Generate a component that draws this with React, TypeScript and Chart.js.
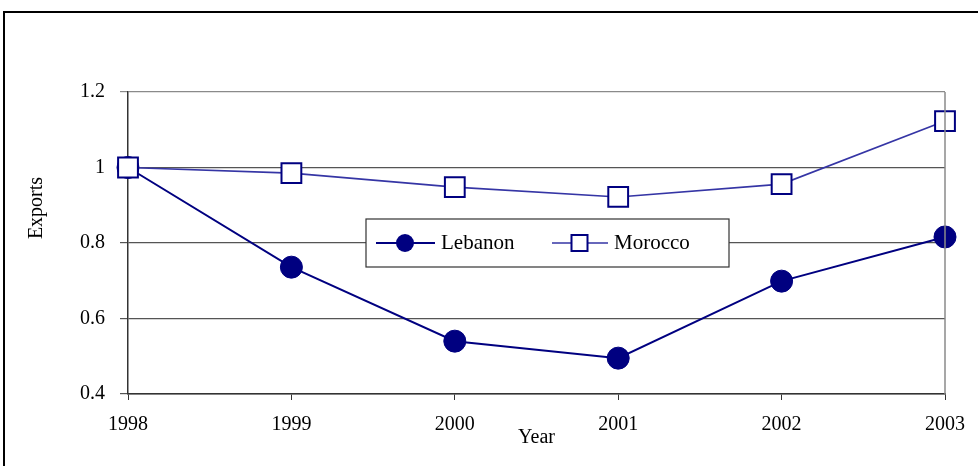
import React, { useEffect, useRef } from 'react';
import { Chart, registerables } from 'chart.js';

Chart.register(...registerables);

const years = ['1998', '1999', '2000', '2001', '2002', '2003'];
const lebanon = [1.0, 0.736, 0.54, 0.495, 0.699, 0.816];
const morocco = [1.0, 0.985, 0.948, 0.922, 0.956, 1.123];
const yTicks = [0.4, 0.6, 0.8, 1.0, 1.2];
const seriesNames = ['Lebanon', 'Morocco'];
const yTitle = 'Exports';
const xTitle = 'Year';

const FONT = '"Liberation Serif", "Times New Roman", serif';
const NAVY = '#000080';
const MOROCCO_LINE = '#3535a5';

const decor = {
  id: 'decor',
  beforeDraw(chart: any) {
    const ctx = chart.ctx;
    ctx.save();
    ctx.fillStyle = '#fff';
    ctx.fillRect(0, 0, chart.width, chart.height);
    ctx.restore();
  },
  afterDatasetsDraw(chart: any) {
    const ctx = chart.ctx;
    const ca = chart.chartArea;
    ctx.save();
    // right border of plot area
    ctx.strokeStyle = '#8a8a8a';
    ctx.lineWidth = 1.5;
    ctx.beginPath();
    ctx.moveTo(ca.right, ca.top);
    ctx.lineTo(ca.right, ca.bottom);
    ctx.stroke();

    // outer frame
    ctx.strokeStyle = '#000';
    ctx.lineWidth = 2;
    ctx.strokeRect(4, 12, chart.width + 100, chart.height + 100);

    // legend box
    const bx = ca.left + 238;
    const by = ca.top + 127;
    const bw = 363;
    const bh = 48;
    ctx.fillStyle = '#fff';
    ctx.fillRect(bx, by, bw, bh);
    ctx.strokeStyle = '#333';
    ctx.lineWidth = 1.2;
    ctx.strokeRect(bx, by, bw, bh);
    const cy = by + bh / 2;

    // Lebanon entry
    ctx.strokeStyle = NAVY;
    ctx.lineWidth = 2;
    ctx.beginPath();
    ctx.moveTo(bx + 10, cy);
    ctx.lineTo(bx + 69, cy);
    ctx.stroke();
    ctx.fillStyle = NAVY;
    ctx.beginPath();
    ctx.arc(bx + 39, cy, 9, 0, Math.PI * 2);
    ctx.fill();
    ctx.fillStyle = '#000';
    ctx.font = `21px ${FONT}`;
    ctx.textBaseline = 'middle';
    ctx.textAlign = 'left';
    ctx.fillText(seriesNames[0], bx + 75, cy);

    // Morocco entry
    ctx.strokeStyle = MOROCCO_LINE;
    ctx.lineWidth = 1.5;
    ctx.beginPath();
    ctx.moveTo(bx + 186, cy);
    ctx.lineTo(bx + 242, cy);
    ctx.stroke();
    ctx.fillStyle = '#fff';
    ctx.fillRect(bx + 205.5, cy - 8, 16, 16);
    ctx.strokeStyle = NAVY;
    ctx.lineWidth = 2;
    ctx.strokeRect(bx + 205.5, cy - 8, 16, 16);
    ctx.fillStyle = '#000';
    ctx.fillText(seriesNames[1], bx + 248, cy);

    // y axis title
    ctx.save();
    ctx.translate(37, 208);
    ctx.rotate(-Math.PI / 2);
    ctx.textAlign = 'center';
    ctx.textBaseline = 'middle';
    ctx.font = `20px ${FONT}`;
    ctx.fillStyle = '#000';
    ctx.fillText(yTitle, 0, 0);
    ctx.restore();

    ctx.restore();
  },
};

export default function App() {
  const ref = useRef<HTMLCanvasElement>(null);

  useEffect(() => {
    document.body.style.margin = '0';
    const canvas = ref.current!;
    const chart = new Chart(canvas, {
      type: 'line',
      data: {
        labels: years,
        datasets: [
          {
            label: seriesNames[0],
            data: lebanon,
            borderColor: NAVY,
            borderWidth: 2,
            pointStyle: 'circle',
            pointRadius: 11,
            pointBackgroundColor: NAVY,
            pointBorderColor: NAVY,
            pointBorderWidth: 1,
            tension: 0,
            clip: false,
            order: 1,
          },
          {
            label: seriesNames[1],
            data: morocco,
            borderColor: MOROCCO_LINE,
            borderWidth: 1.6,
            pointStyle: 'rect',
            pointRadius: 14,
            pointBackgroundColor: '#fff',
            pointBorderColor: NAVY,
            pointBorderWidth: 2,
            tension: 0,
            clip: false,
            order: 0,
          },
        ],
      },
      options: {
        animation: false,
        responsive: false,
        maintainAspectRatio: false,
        events: [],
        layout: { padding: { left: 10, right: 32, top: 92, bottom: 0 } },
        plugins: {
          legend: { display: false },
          tooltip: { enabled: false },
          title: { display: false },
        },
        scales: {
          x: {
            type: 'category',
            offset: false,
            grid: {
              display: true,
              drawOnChartArea: false,
              drawTicks: true,
              tickLength: 6,
              color: '#333',
            },
            border: { display: true, color: '#333', width: 1.5 },
            ticks: {
              font: { family: FONT, size: 20 },
              color: '#000',
              padding: 13,
              maxRotation: 0,
              autoSkip: false,
            },
            title: {
              display: true,
              text: xTitle,
              font: { family: FONT, size: 20 },
              color: '#000',
              padding: { top: 0, bottom: 16 },
            },
            afterFit: (s: any) => {
              s.height = 72;
            },
          },
          y: {
            min: 0.4,
            max: 1.2,
            afterBuildTicks: (s: any) => {
              s.ticks = yTicks.map((v) => ({ value: v }));
            },
            grid: {
              color: (c: any) =>
                c.tick && Math.abs(c.tick.value - 1.2) < 1e-6 ? '#8a8a8a' : '#555',
              lineWidth: 1.2,
              tickLength: 8,
            },
            border: { display: true, color: '#333', width: 1.5 },
            ticks: {
              font: { family: FONT, size: 20 },
              color: '#000',
              padding: 15,
              callback: (v: any) => String(Math.round(Number(v) * 10) / 10),
            },
            afterFit: (s: any) => {
              s.width = 118;
            },
          },
        },
      },
      plugins: [decor],
    });
    return () => chart.destroy();
  }, []);

  return (
    <div style={{ position: 'absolute', left: 0, top: 0, width: 978, height: 466 }}>
      <canvas ref={ref} width={978} height={466} style={{ width: 978, height: 466, display: 'block' }} />
    </div>
  );
}
